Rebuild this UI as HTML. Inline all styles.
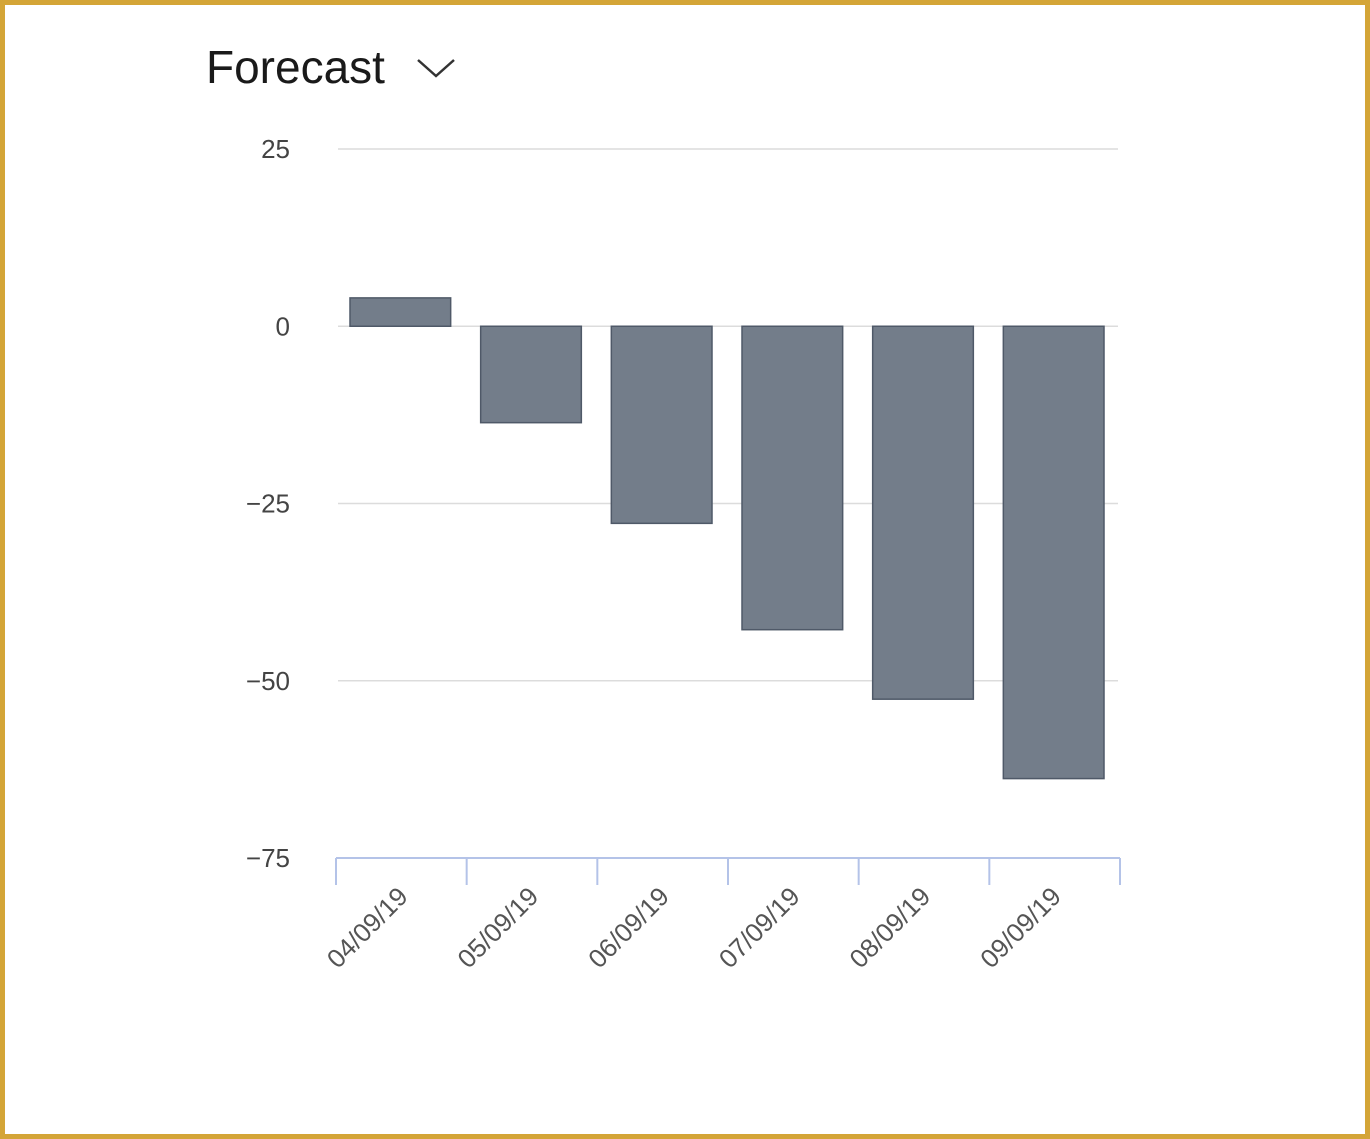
<!DOCTYPE html>
<html><head><meta charset="utf-8"><style>
html,body{margin:0;padding:0;background:#fff;}
#frame{position:absolute;left:0;top:0;width:1370px;height:1139px;box-sizing:border-box;border:5px solid #d4a537;background:#fff;}
svg{position:absolute;left:0;top:0;font-family:"Liberation Sans",sans-serif;}
</style></head><body>
<div id="frame"></div>
<svg id="chart" width="1370" height="1139">
<text x="206" y="83" font-size="46" fill="#1a1a1a">Forecast</text>
<path d="M418,60 L436,76 L454,60" fill="none" stroke="#333" stroke-width="2.5"/>
<g id="grid"></g><g id="bars"></g><g id="axis"></g>
</svg>
<script>
const categories=["04/09/19","05/09/19","06/09/19","07/09/19","08/09/19","09/09/19"];
const values=[4,-13.6,-27.8,-42.8,-52.6,-63.8];
const yTicks=[25,0,-25,-50,-75];
const NS="http://www.w3.org/2000/svg";
const x0=336,x1=1120,yTop=149,yBot=858;
function y(v){return yTop+(25-v)*(yBot-yTop)/100;}
const band=(x1-x0)/categories.length;
function xb(i){return x0+i*band;}
function mk(t,a,p){const e=document.createElementNS(NS,t);for(const k in a)e.setAttribute(k,a[k]);p.appendChild(e);return e;}
const grid=document.getElementById('grid'),bars=document.getElementById('bars'),axis=document.getElementById('axis');
yTicks.forEach(t=>{
  if(t!==-75){const l=mk('line',{x1:338,x2:1118,y1:y(t),y2:y(t),stroke:'#dcdcdc','stroke-width':1.5},grid);
  
  }
  const tx=mk('text',{x:290,y:y(t)+9,'text-anchor':'end','font-size':26,fill:'#444'},grid);
  tx.textContent=(t<0?'\u2212'+(-t):t);
  
  
});
values.forEach((v,i)=>{
  const top=Math.min(y(v),y(0)),h=Math.abs(y(v)-y(0));
  const r=mk('rect',{x:xb(i)+14,y:top,width:band-30,height:h,fill:'#737d8a',stroke:'#4f5968','stroke-width':1.5},bars);
  
  
});
const al=mk('line',{x1:x0,x2:x1,y1:yBot,y2:yBot,stroke:'#b4c3e8','stroke-width':2},axis);


for(let i=0;i<=categories.length;i++){
  const tk=mk('line',{x1:xb(i),x2:xb(i),y1:yBot,y2:yBot+27,stroke:'#b4c3e8','stroke-width':2},axis);
  
  
}
categories.forEach((c,i)=>{
  const cx=xb(i)+band/2+8,cy=yBot+40;
  const t=mk('text',{x:cx,y:cy,'text-anchor':'end','font-size':26,fill:'#555',transform:`rotate(-45 ${cx} ${cy})`},axis);
  t.textContent=c;
  
  
});
</script>
</body></html>
